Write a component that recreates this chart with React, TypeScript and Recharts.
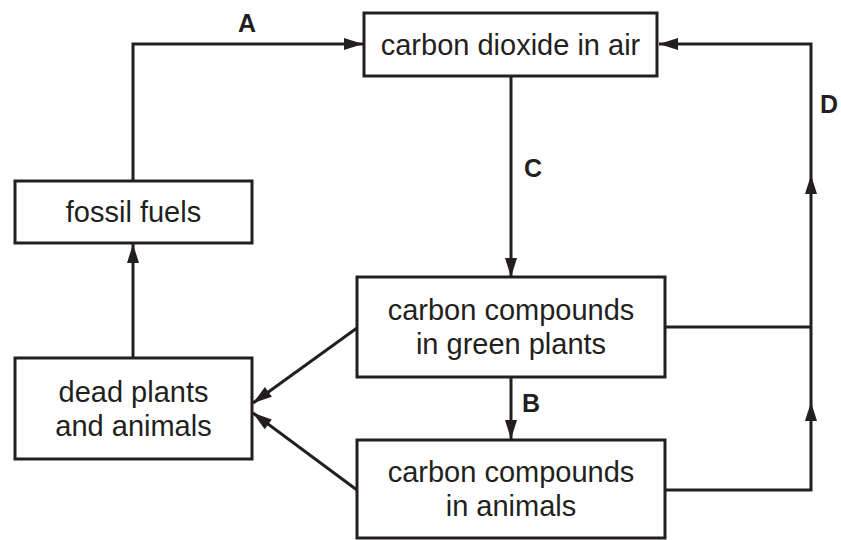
import React from 'react';
import {
  ComposedChart,
  Line,
  Scatter,
  XAxis,
  YAxis,
  ReferenceArea,
} from 'recharts';

const W = 841;
const H = 540;
const INK = '#231f20';
const FONT = '"Liberation Sans", Arial, Helvetica, sans-serif';

// boxes of the carbon cycle (diagram coordinates, y grows downwards)
const boxes = [
  { id: 'co2', x1: 364, x2: 657, y1: 13, y2: 76, lines: ['carbon dioxide in air'] },
  { id: 'fossil', x1: 15, x2: 252, y1: 181, y2: 243, lines: ['fossil fuels'] },
  { id: 'plants', x1: 357, x2: 665, y1: 277, y2: 377, lines: ['carbon compounds', 'in green plants'] },
  { id: 'dead', x1: 15, x2: 252, y1: 358, y2: 459, lines: ['dead plants', 'and animals'] },
  { id: 'animals', x1: 357, x2: 665, y1: 440, y2: 538, lines: ['carbon compounds', 'in animals'] },
];

// connector paths; arrow = draw a head at the last point
const paths = [
  { id: 'A', arrow: true, pts: [{ x: 133, y: 181 }, { x: 133, y: 44 }, { x: 363, y: 44 }] },
  { id: 'C', arrow: true, pts: [{ x: 511, y: 76 }, { x: 511, y: 277 }] },
  { id: 'B', arrow: true, pts: [{ x: 511, y: 377 }, { x: 511, y: 439 }] },
  { id: 'plantsOut', arrow: false, pts: [{ x: 665, y: 327 }, { x: 811, y: 327 }] },
  { id: 'animalsOut', arrow: true, pts: [{ x: 665, y: 490 }, { x: 811, y: 490 }, { x: 811, y: 402 }] },
  { id: 'D1', arrow: true, pts: [{ x: 811, y: 402 }, { x: 811, y: 175 }] },
  { id: 'D2', arrow: true, pts: [{ x: 811, y: 175 }, { x: 811, y: 44 }, { x: 659, y: 44 }] },
  { id: 'plantsDead', arrow: true, pts: [{ x: 357, y: 328 }, { x: 253, y: 403 }] },
  { id: 'animalsDead', arrow: true, pts: [{ x: 357, y: 490 }, { x: 253, y: 413 }] },
  { id: 'deadFossil', arrow: true, pts: [{ x: 133, y: 358 }, { x: 133, y: 244 }] },
];

const letters = [
  { x: 247, y: 32, text: 'A' },
  { x: 531, y: 412, text: 'B' },
  { x: 533, y: 177, text: 'C' },
  { x: 829, y: 113, text: 'D' },
];

const arrowHeads = paths
  .filter((p) => p.arrow)
  .map((p) => {
    const a = p.pts[p.pts.length - 2];
    const b = p.pts[p.pts.length - 1];
    return { x: b.x, y: b.y, angle: (Math.atan2(b.y - a.y, b.x - a.x) * 180) / Math.PI };
  });

function ArrowHead(props: any) {
  const { cx, cy, payload } = props;
  return (
    <polygon
      points="0,0 -19,-6 -19,6"
      fill={INK}
      transform={`translate(${cx},${cy}) rotate(${payload.angle})`}
    />
  );
}

function Letter(props: any) {
  const { cx, cy, payload } = props;
  return (
    <text x={cx} y={cy} textAnchor="middle" fontFamily={FONT} fontWeight="bold" fontSize={25} fill={INK}>
      {payload.text}
    </text>
  );
}

function boxLabel(lines: string[]) {
  return (props: any) => {
    const { x, y, width, height } = props.viewBox;
    const cx = x + width / 2;
    const cy = y + height / 2;
    return (
      <g>
        {lines.map((t, i) => (
          <text
            key={i}
            x={cx}
            y={cy + (i - (lines.length - 1) / 2) * 34 + 10}
            textAnchor="middle"
            fontFamily={FONT}
            fontSize={29}
            fill={INK}
          >
            {t}
          </text>
        ))}
      </g>
    );
  };
}

export default function App() {
  return (
    <div style={{ position: 'absolute', left: 0, top: 0, width: W, height: H, background: '#fff' }}>
      <ComposedChart width={W} height={H} margin={{ top: 0, right: 0, bottom: 0, left: 0 }}>
        <XAxis type="number" dataKey="x" domain={[0, W]} hide allowDataOverflow />
        <YAxis type="number" dataKey="y" domain={[0, H]} reversed hide allowDataOverflow />
        {boxes.map((b) => (
          <ReferenceArea
            key={b.id}
            x1={b.x1}
            x2={b.x2}
            y1={b.y1}
            y2={b.y2}
            fill="#fff"
            fillOpacity={0}
            stroke={INK}
            strokeWidth={3}
            ifOverflow="visible"
            label={boxLabel(b.lines)}
          />
        ))}
        {paths.map((p) => (
          <Line
            key={p.id}
            data={p.pts}
            dataKey="y"
            type="linear"
            stroke={INK}
            strokeWidth={3}
            dot={false}
            activeDot={false}
            isAnimationActive={false}
          />
        ))}
        <Scatter data={arrowHeads} dataKey="y" shape={<ArrowHead />} isAnimationActive={false} />
        <Scatter data={letters} dataKey="y" shape={<Letter />} isAnimationActive={false} />
      </ComposedChart>
    </div>
  );
}
